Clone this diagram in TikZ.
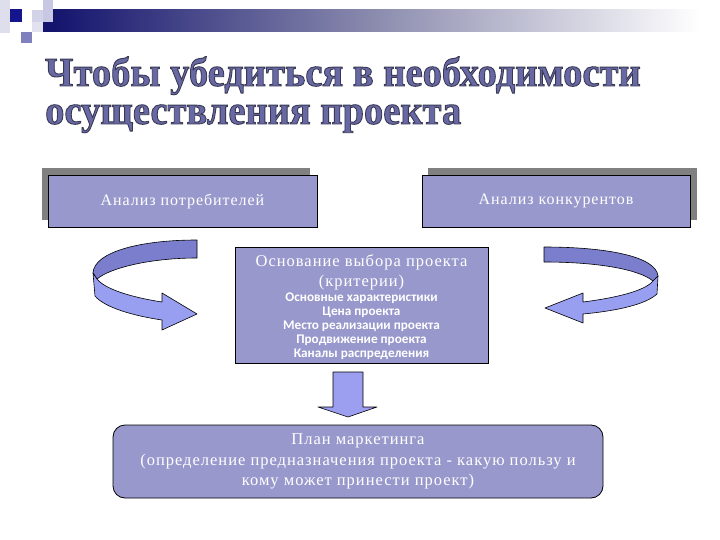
\documentclass[tikz,border=0pt]{standalone}
\usepackage{fontspec}
\setmainfont{Liberation Serif}
\newfontfamily\spfont[LetterSpace=6]{Liberation Serif}
\newfontfamily\smfont{Carlito}
\definecolor{boxfill}{RGB}{152,152,204}
\definecolor{shadowgray}{RGB}{128,128,128}
\definecolor{darkband}{RGB}{122,126,204}
\definecolor{lightband}{RGB}{152,158,240}
\definecolor{downfill}{RGB}{156,158,240}
\definecolor{titlecol}{RGB}{104,104,164}
\definecolor{navy}{RGB}{20,20,110}
\definecolor{decoA}{RGB}{222,222,236}
\definecolor{decoB}{RGB}{200,200,228}
\definecolor{decoC}{RGB}{210,210,232}
\definecolor{decoD}{RGB}{225,225,240}
\definecolor{decoE}{RGB}{20,20,140}
\definecolor{decoF}{RGB}{128,128,190}
\definecolor{barmid}{RGB}{140,140,175}
\newcommand{\outlineon}{\special{pdf:literal direct 2 Tr 0.9 w 0.22 0.22 0.32 RG}}
\newcommand{\outlineoff}{\special{pdf:literal direct 0 Tr}}
\begin{document}
\begin{tikzpicture}[x=1pt,y=-1pt,
  boxstyle/.style={draw=black, line width=0.8pt, fill=boxfill, text=white, inner sep=0pt},
  shadowstyle/.style={fill=shadowgray, draw=none},
  bandstyle/.style={draw=black, line width=0.6pt, line join=round},
  titlestyle/.style={anchor=base west, inner sep=0pt, xscale=0.94, align=left, font=\fontsize{41}{38}\selectfont\bfseries}
]
\useasboundingbox (0,0) rectangle (720,540);
\fill[white] (0,0) rectangle (720,540);
% top-left decoration
\fill[decoA] (0,0) rectangle (10,33);
\fill[decoB] (43,0) rectangle (53,22);
\fill[decoC] (32,10) rectangle (43,22);
\fill[decoD] (32,22) rectangle (43,32);
\fill[decoE] (10,9) rectangle (22,22);
\fill[decoF] (21,32) rectangle (32,43);
\shade[left color=navy, right color=white, middle color=barmid] (53,10) rectangle (700,32);
\fill[navy] (43,22) rectangle (53,32);
% title
\node[titlestyle, text=titlecol] (t) at (45,124) {\outlineon Чтобы убедиться в необходимости\\осуществления проекта\outlineoff};
% top boxes
\fill[shadowstyle] (42,168) rectangle (310,220);
\node[boxstyle, minimum width=269pt, minimum height=52pt, font=\spfont\fontsize{16}{18}\selectfont] (cons) at (182.5,201) {Анализ потребителей};
\fill[shadowstyle] (428,168) rectangle (697,220);
\node[boxstyle, minimum width=268pt, minimum height=52pt, font=\spfont\fontsize{16}{18}\selectfont] (comp) at (556,201) {Анализ конкурентов};
% center box
\node[boxstyle, minimum width=253pt, minimum height=116pt] (crit) at (361.5,305) {};
\node[text=white, align=center, inner sep=0pt, font=\spfont\fontsize{16.5}{20}\selectfont] (crith) at (361.5,272) {Основание выбора проекта\\(критерии)};
\node[text=white, align=center, inner sep=0pt, font=\smfont\bfseries\fontsize{13.2}{14.1}\selectfont] (critl) at (361.5,326.5) {Основные характеристики\\Цена проекта\\Место реализации проекта\\Продвижение проекта\\Каналы распределения};
% bottom box
\node[boxstyle, rounded corners=12pt, minimum width=490pt, minimum height=73pt, align=center, font=\spfont\fontsize{16.5}{20.5}\selectfont] (plan) at (358,461.5) {План маркетинга\\(определение предназначения проекта - какую пользу и\\кому может принести проект)};
% down arrow
\draw[bandstyle, fill=downfill] (333,372) -- (363,372) -- (363,407) -- (377,407) -- (348,417) -- (318,407) -- (333,407) -- cycle;
% left curved arrow
\draw[bandstyle, fill=darkband] (197,240) .. controls (140,240) and (94,252) .. (93,273) -- (97,279) .. controls (110,268) and (150,258) .. (197,258) -- cycle;
\draw[bandstyle, fill=lightband] (93,273) -- (95,296) .. controls (105,308) and (135,316) .. (162,320) -- (162,330) -- (197,314) -- (162,293) -- (162,302) .. controls (130,297) and (105,289) .. (97,279) -- cycle;
% right curved arrow
\draw[bandstyle, fill=darkband] (544,247) .. controls (605,247) and (656,256) .. (658,276) -- (653,281) .. controls (640,270) and (600,262) .. (544,262) -- cycle;
\draw[bandstyle, fill=lightband] (658,276) -- (657,294) .. controls (645,305) and (615,311) .. (583,314) -- (583,323) -- (545,308) -- (583,293) -- (583,302) .. controls (615,298) and (645,291) .. (653,281) -- cycle;
\end{tikzpicture}
\end{document}
